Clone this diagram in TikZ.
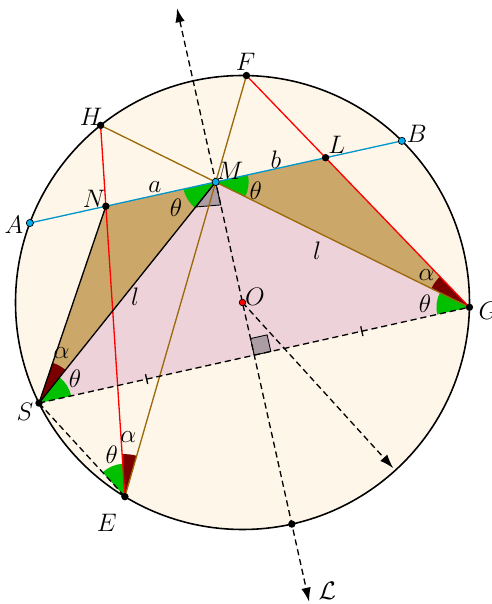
\documentclass[tikz,border=0pt]{standalone}
\usetikzlibrary{calc,angles,arrows.meta}

\definecolor{paper}{RGB}{254,246,233}
\definecolor{rose}{RGB}{237,211,217}
\definecolor{khaki}{RGB}{203,168,106}
\definecolor{angtheta}{RGB}{0,192,0}
\definecolor{angalpha}{RGB}{122,0,0}
\definecolor{mauve}{RGB}{172,156,164}
\definecolor{chordbrown}{RGB}{155,104,10}
\definecolor{chordblue}{RGB}{0,150,204}

\begin{document}
\begin{tikzpicture}[x=0.2mm,y=0.2mm,line width=0.75pt,
  font=\fontsize{13.5}{16}\selectfont,
  dashline/.style={dash pattern=on 3.5pt off 2.2pt},
  tip/.style={-{Latex[length=2.8mm,width=1.9mm]}},
  bothtips/.style={{Latex[length=2.8mm,width=1.9mm]}-{Latex[length=2.8mm,width=1.9mm]}},
  thetaang/.style={fill=angtheta,angle radius=6.6mm},
  alphaang/.style={fill=angalpha,angle radius=8.5mm},
  marker/.style={fill=mauve,line width=0.5pt},
  lbl/.style={inner sep=1pt}]

\useasboundingbox (-242.5,-301.5) rectangle (248.5,302.5);

% circle of radius 227 about O, symmetry axis (line L) at 102.55 deg
\def\R{227}
\coordinate (O) at (0,0);
\coordinate (A) at (159.5:\R);
\coordinate (B) at (45.4:\R);
\coordinate (F) at (89:\R);
\coordinate (H) at (128.7:\R);
\coordinate (G) at (-1.2:\R);
\coordinate (S) at (206.3:\R);
\coordinate (E) at (238.8:\R);
\coordinate (P) at (282.55:\R);
\coordinate (Lt) at (102.55:301.5);
\coordinate (Lb) at (282.55:306.5);
\coordinate (V) at (-47.7:224);
\coordinate (M) at (intersection of A--B and Lt--Lb);
\coordinate (N) at (intersection of A--B and H--E);
\coordinate (L) at (intersection of A--B and F--G);
\coordinate (K) at ($(S)!0.5!(G)$);

% fills: disc, isosceles triangle SMG, the two equal triangles
\fill[paper] (O) circle (\R);
\fill[rose] (S) -- (M) -- (G) -- cycle;
\fill[khaki] (S) -- (N) -- (M) -- cycle;
\fill[khaki] (G) -- (L) -- (M) -- cycle;

% angle wedges
\pic[thetaang] {angle = G--S--M};
\pic[alphaang] {angle = M--S--N};
\pic[thetaang] {angle = M--G--S};
\pic[alphaang] {angle = F--G--M};
\pic[thetaang] {angle = H--E--S};
\pic[alphaang] {angle = F--E--H};
\pic[thetaang] {angle = A--M--S};
\pic[thetaang] {angle = G--M--B};

% right angle marks
\coordinate (Kg) at ($(K)!3.4mm!(G)$);
\coordinate (Ko) at ($(K)!3.4mm!(O)$);
\filldraw[marker] (K) -- (Kg) -- ($(Kg)+(Ko)-(K)$) -- (Ko) -- cycle;
\filldraw[marker] (M) -- ($(M)!6.4mm!(S)$) -- ($(M)!4.7mm!(O)$) -- cycle;

% chords
\draw[chordbrown] (H) -- (G);
\draw[chordbrown] (F) -- (E);
\draw[red] (H) -- (E);
\draw[red] (F) -- (G);
\draw[chordblue] (A) -- (B);
\draw (S) -- (N);
\draw (S) -- (M);
\draw[dashline] (S) -- (G);
\draw[dashline] (S) -- (E);

% axis L and the vector from O
\draw[dashline,bothtips] (Lt) -- (Lb);
\draw[dashline,tip] (O) -- (V);

% equal halves of SG
\coordinate (T1) at ($(S)!0.5!(K)$);
\coordinate (T2) at ($(K)!0.5!(G)$);
\draw ($(T1)!1mm!90:(G)$) -- ($(T1)!1mm!-90:(G)$);
\draw ($(T2)!1mm!90:(G)$) -- ($(T2)!1mm!-90:(G)$);

\draw[line width=0.9pt] (O) circle (\R);

% points
\fill (F) circle (3.7);
\fill (H) circle (3.7);
\fill (N) circle (3.7);
\fill (L) circle (3.7);
\fill (G) circle (3.7);
\fill (S) circle (3.7);
\fill (E) circle (3.7);
\fill (P) circle (3.7);
\filldraw[fill=cyan,line width=0.4pt] (A) circle (3.6);
\filldraw[fill=cyan,line width=0.4pt] (B) circle (3.6);
\filldraw[fill=cyan,line width=0.4pt] (M) circle (3.6);
\filldraw[fill=red,line width=0.4pt] (O) circle (3.3);

% point labels
\node[lbl] (tF) at (3,240.5) {$F$};
\node[lbl] (tH) at (-151.5,185.2) {$H$};
\node[lbl] (tA) at (-228.5,77.2) {$A$};
\node[lbl] (tN) at (-148.5,103.2) {$N$};
\node[lbl] (tM) at (-12.5,132) {$M$};
\node[lbl] (tL) at (94.2,157.5) {$L$};
\node[lbl] (tB) at (174.2,168.2) {$B$};
\node[lbl] (tO) at (12.5,5.8) {$O$};
\node[lbl] (tG) at (245.8,-8.5) {$G$};
\node[lbl] (tS) at (-217.5,-109.2) {$S$};
\node[lbl] (tE) at (-135.8,-220.8) {$E$};
\node[lbl] (tAxis) at (84.8,-288.2) {$\mathcal{L}$};

% lengths
\node[lbl] (ta) at (-87.5,115.2) {$a$};
\node[lbl] (tb) at (33.5,142.5) {$b$};
\node[lbl] (tl1) at (74.5,51.5) {$l$};
\node[lbl] (tl2) at (-107.5,5.8) {$l$};

% angle labels
\node[lbl] (thS) at (-167.5,-75.8) {$\theta$};
\node[lbl] (alS) at (-180.8,-50.8) {$\alpha$};
\node[lbl] (thG) at (182.5,-0.8) {$\theta$};
\node[lbl] (alG) at (184.2,27.5) {$\alpha$};
\node[lbl] (thE) at (-130.8,-152.5) {$\theta$};
\node[lbl] (alE) at (-114.2,-134.2) {$\alpha$};
\node[lbl] (thM1) at (-66.5,94.8) {$\theta$};
\node[lbl] (thM2) at (13.2,111.5) {$\theta$};

\end{tikzpicture}
\end{document}
